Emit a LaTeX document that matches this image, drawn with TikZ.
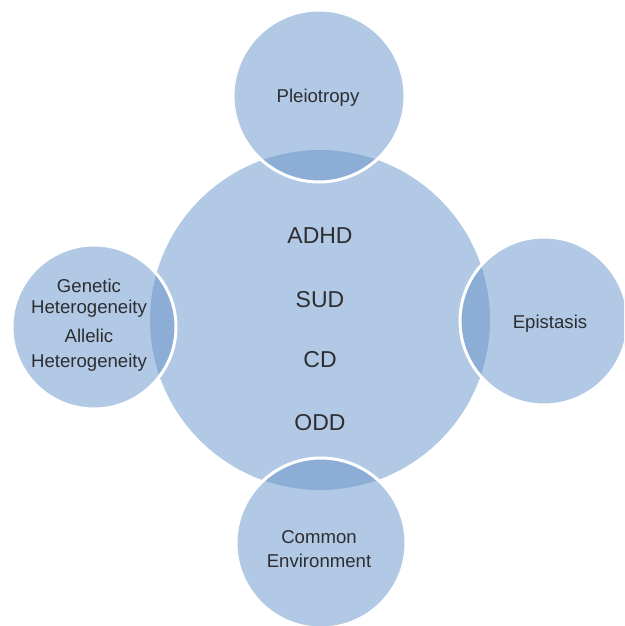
\documentclass[tikz,border=0pt]{standalone}
\usepackage{fontspec}
\setmainfont{Liberation Sans}
\definecolor{lightb}{RGB}{177,201,228}
\definecolor{darkb}{RGB}{140,174,214}
\definecolor{txt}{RGB}{45,45,50}
\begin{document}
\begin{tikzpicture}[x=1pt,y=-1pt,
  lab/.style={text=txt, font=\fontsize{18.6}{22}\selectfont, anchor=base, inner sep=0pt},
  biglab/.style={text=txt, font=\fontsize{23}{27}\selectfont, anchor=base, inner sep=0pt},
  ring/.style={draw=white, line width=3pt}]
\useasboundingbox (0,0) rectangle (624,626);
\clip (0,0) rectangle (624,626);
\coordinate (c) at (320,320);
\coordinate (t) at (319,96);
\coordinate (l) at (94,327);
\coordinate (r) at (544,321);
\coordinate (b) at (321,543);
% fills
\fill[lightb] (c) circle (170pt);
\fill[lightb] (t) circle (86pt);
\fill[lightb] (l) circle (82pt);
\fill[lightb] (r) circle (84pt);
\fill[lightb] (b) circle (85pt);
% overlaps
\begin{scope}
  \clip (c) circle (170pt);
  \fill[darkb] (t) circle (86pt);
  \fill[darkb] (l) circle (82pt);
  \fill[darkb] (r) circle (84pt);
  \fill[darkb] (b) circle (85pt);
\end{scope}
% white outlines
\draw[ring] (t) circle (86pt);
\draw[ring] (l) circle (82pt);
\draw[ring] (r) circle (84pt);
\draw[ring] (b) circle (85pt);
% labels
\node[biglab] (adhd) at (320,243) {ADHD};
\node[biglab] (sud) at (320,307) {SUD};
\node[biglab] (cd) at (320,367) {CD};
\node[biglab] (odd) at (320,430) {ODD};
\node[lab] (pl) at (318,102) {Pleiotropy};
\node[lab] (g1) at (89,292) {Genetic};
\node[lab] (g2) at (89,313) {Heterogeneity};
\node[lab] (a1) at (89,342) {Allelic};
\node[lab] (a2) at (89,367) {Heterogeneity};
\node[lab] (ep) at (550,328) {Epistasis};
\node[lab] (co) at (319,543) {Common};
\node[lab] (en) at (319,567) {Environment};
\end{tikzpicture}
\end{document}
